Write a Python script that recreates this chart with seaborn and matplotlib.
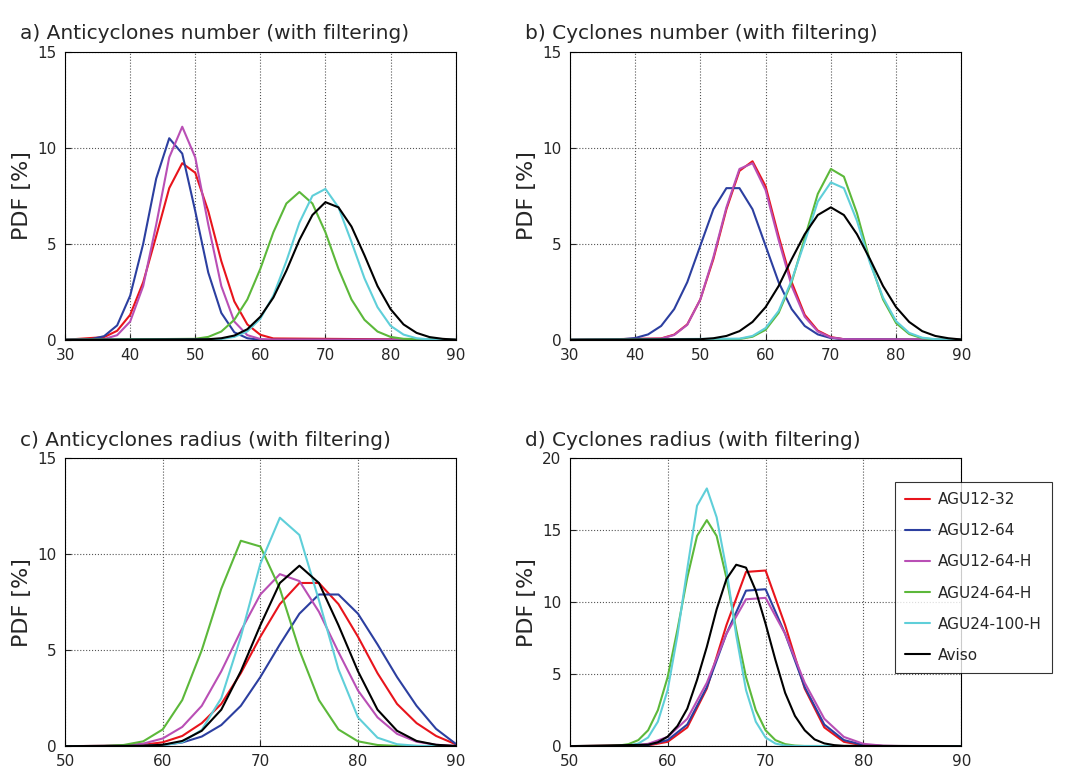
import numpy as np
import matplotlib
matplotlib.use('Agg')
import matplotlib.pyplot as plt
import seaborn as sns

labels = ['AGU12-32', 'AGU12-64', 'AGU12-64-H', 'AGU24-64-H', 'AGU24-100-H', 'Aviso']
colors = ['#e8141c', '#2c3fa0', '#b94fb5', '#5cb83a', '#5fcfd9', '#000000']

# panel a) anticyclones number
a_x = [
    list(range(36, 63, 2)),
    list(range(34, 61, 2)),
    list(range(34, 63, 2)),
    list(range(50, 83, 2)),
    list(range(54, 87, 2)),
    list(range(52, 91, 2)),
]
a_y = [
    [0.14, 0.47, 1.3, 3.0, 5.4, 7.9, 9.2, 8.7, 6.7, 4.1, 2.0, 0.8, 0.26, 0.07],
    [0.03, 0.19, 0.75, 2.3, 5.0, 8.4, 10.5, 9.7, 6.7, 3.5, 1.4, 0.39, 0.08, 0.0],
    [0.01, 0.04, 0.24, 0.95, 2.8, 6.0, 9.5, 11.1, 9.5, 6.0, 2.8, 0.95, 0.24, 0.04, 0.01],
    [0.05, 0.15, 0.43, 1.04, 2.1, 3.7, 5.6, 7.1, 7.7, 7.1, 5.6, 3.7, 2.1, 1.04, 0.43, 0.15, 0.05],
    [0.04, 0.15, 0.44, 1.1, 2.3, 4.1, 6.1, 7.5, 7.86, 6.9, 5.1, 3.2, 1.7, 0.73, 0.27, 0.08, 0.02],
    [0.03, 0.08, 0.22, 0.55, 1.2, 2.2, 3.6, 5.2, 6.5, 7.17, 6.9, 5.9, 4.4, 2.8, 1.6, 0.8, 0.36, 0.14, 0.05, 0.01],
]

# panel b) cyclones number
b_x = [
    list(range(44, 73, 2)),
    list(range(38, 73, 2)),
    list(range(44, 73, 2)),
    list(range(56, 87, 2)),
    list(range(56, 87, 2)),
    list(range(50, 91, 2)),
]
b_y = [
    [0.07, 0.27, 0.8, 2.1, 4.2, 6.8, 8.8, 9.3, 8.0, 5.4, 3.0, 1.3, 0.48, 0.14, 0.03],
    [0.03, 0.09, 0.28, 0.72, 1.6, 3.0, 4.9, 6.8, 7.9, 7.9, 6.8, 4.9, 3.0, 1.6, 0.72, 0.28, 0.09, 0.03],
    [0.06, 0.25, 0.78, 2.1, 4.3, 6.9, 8.9, 9.2, 7.8, 5.2, 2.8, 1.2, 0.43, 0.12, 0.03],
    [0.04, 0.16, 0.52, 1.4, 3.0, 5.3, 7.6, 8.9, 8.5, 6.6, 4.1, 2.1, 0.87, 0.30, 0.08, 0.02],
    [0.06, 0.2, 0.61, 1.5, 3.1, 5.1, 7.2, 8.2, 7.9, 6.2, 4.0, 2.2, 0.97, 0.36, 0.11, 0.03],
    [0.03, 0.08, 0.2, 0.45, 0.93, 1.7, 2.8, 4.2, 5.5, 6.5, 6.9, 6.5, 5.5, 4.2, 2.8, 1.7, 0.93, 0.45, 0.2, 0.08, 0.03],
]

# panel c) anticyclones radius
c_x = [
    list(range(56, 91, 2)),
    list(range(58, 91, 2)),
    list(range(54, 91, 2)),
    list(range(54, 85, 2)),
    list(range(58, 89, 2)),
    list(range(58, 91, 2)),
]
c_y = [
    [0.02, 0.07, 0.2, 0.53, 1.2, 2.2, 3.8, 5.7, 7.4, 8.5, 8.5, 7.4, 5.7, 3.8, 2.2, 1.2, 0.53, 0.2],
    [0.02, 0.06, 0.19, 0.5, 1.1, 2.1, 3.6, 5.3, 6.9, 7.9, 7.9, 6.9, 5.3, 3.6, 2.1, 0.9, 0.25],
    [0.01, 0.04, 0.13, 0.4, 1.0, 2.1, 3.9, 6.0, 7.9, 8.96, 8.6, 7.0, 4.9, 2.9, 1.5, 0.64, 0.23, 0.07, 0.02],
    [0.01, 0.06, 0.25, 0.87, 2.4, 5.0, 8.2, 10.7, 10.4, 8.2, 5.0, 2.4, 0.87, 0.25, 0.06, 0.01],
    [0.01, 0.04, 0.21, 0.85, 2.5, 5.7, 9.5, 11.9, 11.0, 7.6, 4.0, 1.5, 0.44, 0.1, 0.02, 0.0],
    [0.02, 0.07, 0.27, 0.8, 1.9, 3.9, 6.3, 8.5, 9.4, 8.5, 6.3, 3.9, 1.9, 0.8, 0.27, 0.07, 0.02],
]

# panel d) cyclones radius
d_x = [
    list(range(58, 83, 2)),
    list(range(56, 83, 2)),
    list(range(54, 85, 2)),
    list(range(54, 75)),
    list(range(55, 74)),
    list(range(58, 79)),
]
d_y = [
    [0.05, 0.3, 1.3, 4.0, 8.4, 12.1, 12.2, 8.4, 4.0, 1.3, 0.3, 0.05, 0.01],
    [0.01, 0.08, 0.42, 1.5, 4.1, 7.8, 10.8, 10.9, 7.8, 4.1, 1.5, 0.42, 0.08, 0.01],
    [0.0, 0.03, 0.16, 0.64, 1.9, 4.4, 7.8, 10.2, 10.3, 7.8, 4.4, 1.9, 0.64, 0.16, 0.03, 0.0],
    [0.01, 0.04, 0.14, 0.42, 1.1, 2.5, 4.8, 8.1, 11.7, 14.6, 15.7, 14.6, 11.7, 8.1, 4.8, 2.5, 1.1, 0.42, 0.14, 0.04, 0.01],
    [0.01, 0.04, 0.18, 0.6, 1.7, 3.9, 7.7, 12.3, 16.7, 17.9, 15.9, 12.3, 7.7, 3.9, 1.7, 0.6, 0.18, 0.04, 0.01],
    [0.1, 0.27, 0.66, 1.4, 2.6, 4.6, 6.9, 9.5, 11.6, 12.6, 12.4, 10.8, 8.5, 6.0, 3.7, 2.1, 1.1, 0.47, 0.19, 0.07, 0.02],
]

panels = [
    ('a)', 'Anticyclones number (with filtering)', a_x, a_y, (30, 90), 15, [0.061, 0.561, 0.366, 0.372]),
    ('b)', 'Cyclones number (with filtering)', b_x, b_y, (30, 90), 15, [0.534, 0.561, 0.367, 0.372]),
    ('c)', 'Anticyclones radius (with filtering)', c_x, c_y, (50, 90), 15, [0.061, 0.036, 0.366, 0.372]),
    ('d)', 'Cyclones radius (with filtering)', d_x, d_y, (50, 90), 20, [0.534, 0.036, 0.367, 0.372]),
]

sns.set_style('white')
plt.rcParams['font.family'] = ['DejaVu Sans']

fig = plt.figure(figsize=(10.67, 7.74), dpi=100)

for tag, title, xs, ys, xlim, ymax, pos in panels:
    ax = fig.add_axes(pos)
    for lab, col, x, y in zip(labels, colors, xs, ys):
        # pad with zeros to the axis range
        xp = [xlim[0]] + x + [xlim[1]]
        yp = [0.0] + y + [0.0]
        sns.lineplot(x=xp, y=yp, color=col, lw=1.5, label=lab, ax=ax, legend=False)
    ax.set_xlim(*xlim)
    ax.set_ylim(0, ymax)
    ax.set_xticks(np.arange(xlim[0], xlim[1] + 1, 10))
    ax.set_yticks(np.arange(0, ymax + 1, 5))
    ax.grid(True, linestyle=':', color='#555555', lw=0.8)
    for s in ax.spines.values():
        s.set_color('black')
        s.set_linewidth(0.8)
    ax.tick_params(labelsize=11, direction='in', length=4, left=True, bottom=True)
    ax.tick_params(axis='y', pad=6)
    ax.tick_params(axis='x', pad=6)
    ax.set_ylabel('PDF [%]', fontsize=16)
    ax.set_xlabel('')
    ax.text(-0.115, 1.03, tag + ' ' + title, transform=ax.transAxes, fontsize=14.5,
            ha='left', va='bottom')
    if tag == 'd)':
        leg = ax.legend(loc='upper left', bbox_to_anchor=(0.81, 0.945), fontsize=11,
                        frameon=True, fancybox=False, edgecolor='black',
                        handlelength=1.6, handletextpad=0.5, borderpad=0.7,
                        labelspacing=1.05)
        leg.get_frame().set_linewidth(0.8)

fig.savefig('out.png', dpi=100, facecolor='white')
